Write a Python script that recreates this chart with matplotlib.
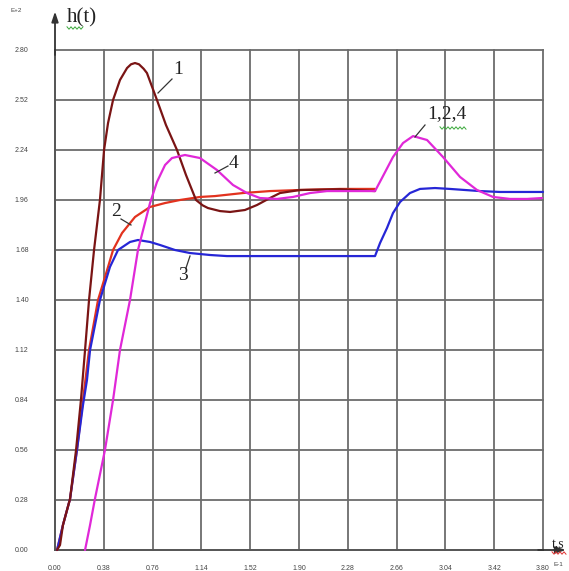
import numpy as np
import matplotlib
matplotlib.use("Agg")
import matplotlib.pyplot as plt

# ---- tick labels (axis values are shown scaled: t in E-1, h in E+2) ----
x_ticks = [0.00, 0.38, 0.76, 1.14, 1.52, 1.90, 2.28, 2.66, 3.04, 3.42, 3.80]
y_ticks = [0.00, 0.28, 0.56, 0.84, 1.12, 1.40, 1.68, 1.96, 2.24, 2.52, 2.80]

# ---- curve 1 : strongly oscillating response ----
t1 = [0.016, 0.039, 0.062, 0.117, 0.164, 0.202, 0.234, 0.265, 0.304, 0.350,
      0.382, 0.413, 0.452, 0.506, 0.561, 0.592, 0.623, 0.654, 0.690, 0.716,
      0.794, 0.864, 0.950, 1.020, 1.098, 1.150, 1.191, 1.285, 1.363, 1.479,
      1.573, 1.674, 1.752, 1.908, 2.219, 2.492]
h1 = [0.0, 0.028, 0.14, 0.286, 0.56, 0.84, 1.12, 1.40, 1.68, 1.96,
      2.24, 2.391, 2.52, 2.632, 2.699, 2.720, 2.727, 2.720, 2.695, 2.671,
      2.52, 2.38, 2.24, 2.10, 1.96, 1.930, 1.915, 1.898, 1.893, 1.904,
      1.932, 1.971, 1.999, 2.016, 2.02, 2.01]

# ---- curve 2 : aperiodic response ----
t2 = [0.016, 0.062, 0.117, 0.171, 0.218, 0.265, 0.335, 0.413, 0.452, 0.522,
      0.623, 0.740, 0.857, 0.973, 1.129, 1.246, 1.464, 1.674, 1.908, 2.219,
      2.492]
h2 = [0.0, 0.14, 0.286, 0.56, 0.84, 1.12, 1.40, 1.585, 1.68, 1.775,
      1.865, 1.921, 1.943, 1.96, 1.977, 1.982, 1.999, 2.010, 2.016, 2.022,
      2.022]

# ---- curve 3 : lower level, then step at t = 2.49 ----
t3 = [0.016, 0.062, 0.117, 0.171, 0.218, 0.249, 0.273, 0.350, 0.428, 0.491,
      0.584, 0.646, 0.740, 0.818, 0.934, 1.051, 1.207, 1.339, 1.908, 2.492,
      2.531, 2.585, 2.632, 2.687, 2.764, 2.842, 2.959, 3.075, 3.192, 3.309,
      3.465, 3.800]
h3 = [0.0, 0.14, 0.286, 0.56, 0.812, 0.952, 1.12, 1.40, 1.585, 1.68,
      1.725, 1.736, 1.725, 1.708, 1.68, 1.663, 1.652, 1.646, 1.646, 1.646,
      1.719, 1.803, 1.887, 1.949, 1.999, 2.022, 2.027, 2.022, 2.016, 2.010,
      2.005, 2.005]

# ---- curve 4 (common tail of 1, 2, 4 after the step) ----
t4 = [0.234, 0.273, 0.311, 0.389, 0.452, 0.506, 0.584, 0.646, 0.740, 0.794,
      0.857, 0.911, 1.012, 1.129, 1.261, 1.386, 1.495, 1.596, 1.729, 1.853,
      1.986, 2.118, 2.375, 2.492, 2.546, 2.632, 2.710, 2.788, 2.897, 3.021,
      3.154, 3.286, 3.411, 3.543, 3.676, 3.792]
h4 = [0.0, 0.14, 0.286, 0.56, 0.84, 1.12, 1.40, 1.68, 1.943, 2.061,
      2.156, 2.195, 2.212, 2.195, 2.128, 2.044, 1.999, 1.971, 1.966, 1.977,
      1.999, 2.010, 2.010, 2.010, 2.083, 2.201, 2.279, 2.318, 2.296, 2.201,
      2.089, 2.016, 1.977, 1.966, 1.966, 1.971]

W, H = 569, 571
fig = plt.figure(figsize=(W / 100, H / 100), dpi=100)
ax = fig.add_axes([55 / W, 1 - 550 / H, (543 - 55) / W, 500 / H])

grid_c = "#6c6c6c"
ax.set_xlim(x_ticks[0], x_ticks[-1])
ax.set_ylim(y_ticks[0], y_ticks[-1])
ax.set_xticks(x_ticks)
ax.set_yticks(y_ticks)
ax.set_xticklabels([f"{v:.2f}" for v in x_ticks])
ax.set_yticklabels([f"{v:.2f}" for v in y_ticks])
ax.tick_params(length=0, labelsize=5, labelcolor="#444444")
ax.tick_params(axis="x", pad=11)
ax.tick_params(axis="y", pad=19)
for lab in ax.get_xticklabels() + ax.get_yticklabels():
    lab.set_family(["Liberation Sans", "DejaVu Sans"])
ax.grid(True, color=grid_c, linewidth=1.3)
for gl in ax.get_xgridlines() + ax.get_ygridlines():
    gl.set_clip_on(False)
ax.set_axisbelow(True)
for side in ("top", "right"):
    ax.spines[side].set_visible(False)
for side in ("left", "bottom"):
    ax.spines[side].set_color("#555555")
    ax.spines[side].set_linewidth(1.3)

# axis arrows
ax.annotate("", xy=(0, 1.077), xytext=(0, 0.99), xycoords="axes fraction",
            arrowprops=dict(arrowstyle="-|>,head_length=0.6,head_width=0.2",
                            color="#333333", lw=1.3, shrinkA=0, shrinkB=0))
ax.annotate("", xy=(1.047, 0), xytext=(0.99, 0), xycoords="axes fraction",
            arrowprops=dict(arrowstyle="-|>,head_length=0.6,head_width=0.2",
                            color="#333333", lw=1.3, shrinkA=0, shrinkB=0))

lw = 1.6
style = dict(lw=lw, clip_on=False, solid_joinstyle="round", solid_capstyle="round")
ax.plot(t2, h2, color="#e2321e", zorder=3, **style)
ax.plot(t1, h1, color="#7a1414", zorder=4, **style)
ax.plot(t3, h3, color="#2626d6", zorder=3, **style)
ax.plot(t4, h4, color="#e028d8", zorder=5, **style)

# curve labels with leader lines (figure pixel coordinates)
def px(x, y):
    return (x / W, 1 - y / H)

serif = ["Liberation Serif", "DejaVu Serif"]
def label(text, pos, line, size=14):
    fig.text(*px(*pos), text, family=serif, fontsize=size, color="#222222",
             ha="center", va="center")
    (x0, y0), (x1, y1) = line
    fig.add_artist(plt.Line2D([x0 / W, x1 / W], [1 - y0 / H, 1 - y1 / H],
                              color="#333333", lw=0.9))

label("1", (178, 70), ((158, 93), (172, 79)))
label("2", (116, 212), ((121, 219), (131, 225)))
label("3", (183, 276), ((190, 256), (186, 268)))
label("4", (234, 163), ((215, 173), (228, 166)))
label("1,2,4", (447, 114), ((415, 137), (425, 125)))

fig.text(*px(82, 18), "h(t)", family=serif, fontsize=15, color="#222222",
         ha="center", va="center")
fig.text(*px(552, 545), "t,s", family=serif, fontsize=10, color="#222222",
         ha="left", va="center")

# small wavy underlines under the text labels
def squiggle(x0, x1, y, color):
    xs = np.arange(x0, x1 + 0.1, 2.0)
    ys = y + np.where(np.arange(len(xs)) % 2 == 0, -1.2, 1.2)
    fig.add_artist(plt.Line2D(xs / W, 1 - ys / H, color=color, lw=0.7))

squiggle(67, 83, 28, "#3aa83a")
squiggle(440, 467, 128, "#3aa83a")
squiggle(552, 566, 553, "#e03030")

fig.text(*px(16, 11), "E+2", fontsize=4.5, color="#444444",
         family=["Liberation Sans", "DejaVu Sans"], ha="center", va="center")
fig.text(*px(558, 565), "E-1", fontsize=4.5, color="#444444",
         family=["Liberation Sans", "DejaVu Sans"], ha="center", va="center")

fig.savefig("out.png", dpi=100, facecolor="white")
